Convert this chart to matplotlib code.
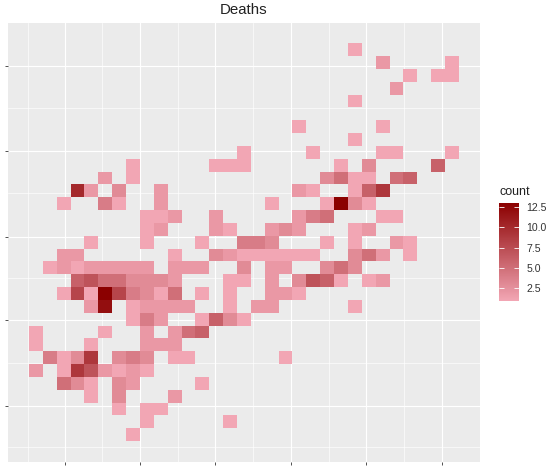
import numpy as np
import matplotlib
matplotlib.use("Agg")
import matplotlib.pyplot as plt
from matplotlib.colors import LinearSegmentedColormap

plt.rcParams['font.family'] = ['Liberation Sans', 'DejaVu Sans']

title = "Deaths"
legend_title = "count"
legend_ticks = [2.5, 5.0, 7.5, 10.0, 12.5]

# (column, count) per row of the 2-D histogram, listed top row first
row_00 = [(23, 1)]
row_01 = [(25, 2), (30, 1)]
row_02 = [(27, 1), (29, 1), (30, 1)]
row_03 = [(26, 2)]
row_04 = [(23, 1)]
row_05 = []
row_06 = [(19, 1), (25, 1)]
row_07 = [(23, 1)]
row_08 = [(15, 1), (20, 1), (25, 1), (26, 1), (30, 1)]
row_09 = [(7, 1), (13, 1), (14, 1), (15, 1), (22, 1), (24, 3), (29, 6)]
row_10 = [(5, 2), (7, 1), (21, 3), (22, 5), (23, 1), (24, 1), (26, 5), (27, 6)]
row_11 = [(3, 10), (4, 2), (6, 3), (9, 2), (19, 2), (20, 1), (23, 1), (24, 6), (25, 9)]
row_12 = [(2, 1), (5, 4), (6, 1), (9, 2), (17, 1), (21, 1), (22, 13), (23, 3), (24, 1)]
row_13 = [(8, 1), (9, 1), (10, 2), (13, 2), (19, 2), (20, 4), (21, 5), (25, 1), (26, 1)]
row_14 = [(8, 1), (9, 2), (13, 2), (14, 1), (17, 2), (18, 3), (19, 2), (23, 1), (24, 2)]
row_15 = [(4, 1), (8, 1), (12, 1), (15, 4), (16, 4), (17, 3), (21, 1), (23, 1), (26, 2), (27, 1)]
row_16 = [(2, 2), (3, 2), (10, 1), (13, 3), (14, 2), (15, 1), (16, 1), (17, 1), (18, 1), (19, 1),
          (20, 1), (23, 3), (24, 5), (25, 2), (27, 1)]
row_17 = [(1, 1), (2, 2), (3, 1), (4, 2), (5, 2), (6, 2), (7, 2), (8, 2), (10, 2), (11, 2), (12, 2),
          (15, 3), (17, 2), (18, 2), (21, 3), (22, 5), (23, 3)]
row_18 = [(3, 6), (4, 7), (5, 5), (6, 5), (7, 3), (8, 3), (9, 3), (10, 2), (14, 1), (15, 1),
          (17, 2), (19, 3), (20, 7), (21, 6), (22, 1), (24, 1), (25, 2)]
row_19 = [(2, 1), (3, 8), (4, 1), (5, 13), (6, 8), (7, 4), (8, 3), (9, 1), (10, 5), (12, 1), (14, 1),
          (17, 2), (18, 2), (19, 1)]
row_20 = [(4, 2), (5, 12), (7, 1), (8, 2), (9, 2), (10, 2), (11, 2), (14, 1), (16, 2), (17, 2), (23, 1)]
row_21 = [(7, 1), (8, 4), (9, 2), (12, 1), (13, 6), (14, 3), (15, 1)]
row_22 = [(0, 1), (5, 1), (8, 2), (10, 2), (11, 5), (12, 6)]
row_23 = [(0, 1), (4, 1), (8, 2), (9, 2), (10, 2)]
row_24 = [(1, 4), (2, 1), (3, 3), (4, 9), (6, 3), (7, 4), (8, 3), (10, 1), (11, 1), (18, 1)]
row_25 = [(0, 2), (2, 1), (3, 9), (4, 7), (5, 2), (6, 1), (7, 2), (8, 1)]
row_26 = [(2, 5), (3, 3), (4, 1), (6, 3), (7, 2), (12, 1)]
row_27 = [(4, 1), (6, 3), (10, 2)]
row_28 = [(6, 1), (8, 1), (9, 1)]
row_29 = [(8, 1), (14, 1)]
row_30 = [(7, 1)]
rows = [row_00, row_01, row_02, row_03, row_04, row_05, row_06, row_07, row_08, row_09,
        row_10, row_11, row_12, row_13, row_14, row_15, row_16, row_17, row_18, row_19,
        row_20, row_21, row_22, row_23, row_24, row_25, row_26, row_27, row_28, row_29, row_30]

grid = np.full((31, 31), np.nan)
for r, cells in enumerate(rows):
    for c, n in cells:
        grid[r, c] = n

W, H = 550, 468
fig = plt.figure(figsize=(W / 100, H / 100), dpi=100, facecolor='white')
L, R, T, B = 8, 480, 23.3, 461.7
ax = fig.add_axes([L / W, 1 - B / H, (R - L) / W, (B - T) / H], facecolor='#EBEBEB')

cmap = LinearSegmentedColormap.from_list('deaths', ['#F2A6B4', '#8B0000'])
mesh = ax.pcolormesh(np.arange(32), np.arange(32), np.ma.masked_invalid(grid),
                     cmap=cmap, vmin=1, vmax=13, linewidth=0, zorder=2)

ax.set_xlim(-1.514, 32.52)
ax.set_ylim(32.61, -1.56)
ax.set_xticks([2.6, 8.04, 13.43, 18.91, 24.3, 29.76])
ax.set_xticks([-0.1, 5.24, 10.74, 16.15, 21.6, 27.04], minor=True)
ax.set_yticks([1.77, 8.37, 15.07, 21.6, 28.27])
ax.set_yticks([5.04, 11.64, 18.27, 24.9, 31.5], minor=True)
ax.set_xticklabels([])
ax.set_yticklabels([])
ax.grid(which='major', color='white', linewidth=0.85, zorder=1)
ax.grid(which='minor', color='white', linewidth=0.45, zorder=1)
ax.set_axisbelow(True)
ax.tick_params(which='major', length=2.2, width=0.6, color='#333333')
ax.tick_params(which='minor', length=0)
for s in ax.spines.values():
    s.set_visible(False)

fig.text(244 / W, 1 - 9.5 / H, title, ha='center', va='center', fontsize=10.8, color='#222222')

cax = fig.add_axes([499.3 / W, 1 - 300.7 / H, 19.7 / W, 97.7 / H])
cb = fig.colorbar(mesh, cax=cax, ticks=legend_ticks)
cb.outline.set_visible(False)
cb.ax.set_yticklabels([f"{v:.1f}" for v in legend_ticks], fontsize=7.6, color='#333333')
cb.ax.tick_params(direction='in', length=3.5, width=0.6, color='white', left=True, right=True, pad=5.5)
fig.text(499.5 / W, 1 - 192 / H, legend_title, ha='left', va='center', fontsize=9, color='#222222')

fig.savefig('out.png', dpi=100)
